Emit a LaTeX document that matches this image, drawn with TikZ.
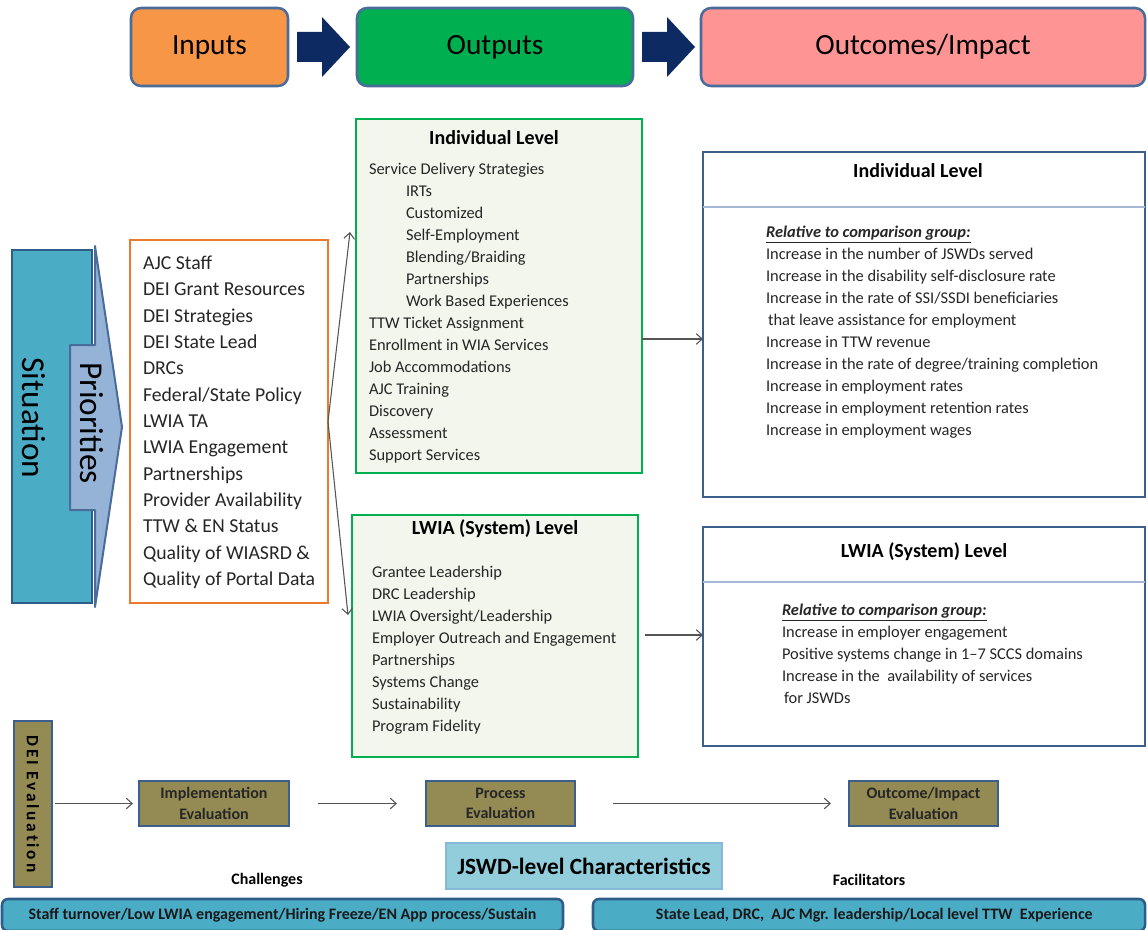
\documentclass[tikz,border=0pt]{standalone}
\usepackage{fontspec}
\setmainfont{Carlito}
\usetikzlibrary{arrows.meta}
\definecolor{hdrb}{HTML}{4A6C9B}
\definecolor{inpf}{HTML}{F79646}
\definecolor{outf}{HTML}{00B050}
\definecolor{impf}{HTML}{FF9494}
\definecolor{navyc}{HTML}{0E2A63}
\definecolor{sitf}{HTML}{4BACC6}
\definecolor{sitb}{HTML}{2F5D8A}
\definecolor{prif}{HTML}{95B3D7}
\definecolor{prib}{HTML}{4A6C9B}
\definecolor{orab}{HTML}{E97A30}
\definecolor{grnb}{HTML}{00B050}
\definecolor{grnf}{HTML}{F2F6EC}
\definecolor{outb}{HTML}{3D5F8E}
\definecolor{sepc}{HTML}{A5B9D4}
\definecolor{olivec}{HTML}{948A54}
\definecolor{jswdf}{HTML}{92CDDC}
\definecolor{jswdb}{HTML}{86B6D8}
\definecolor{barf}{HTML}{4BACC6}
\definecolor{txtc}{HTML}{262626}
\definecolor{conncol}{HTML}{555555}
\newcommand{\bx}[7]{\node[#6, minimum width={(#4-#2)*0.75pt}, minimum height={(#5-#3)*0.75pt}] (#1) at ({(#2+#4)/2},{(#3+#5)/2}) {#7};}
\begin{document}
\begin{tikzpicture}[x=0.75pt,y=-0.75pt,
  every node/.style={inner sep=0pt, outer sep=0pt, text=txtc},
  hdr/.style={draw=hdrb, line width=1.9pt, rounded corners=7.5pt, font=\fontsize{22}{26}\selectfont, text=black},
  inp/.style={font=\fontsize{14.8}{18}\selectfont, anchor=base west},
  itm/.style={font=\fontsize{12.3}{15}\selectfont, anchor=base west},
  ttl/.style={font=\fontsize{15}{18}\selectfont\bfseries, anchor=base, text=black},
  grnbox/.style={draw=grnb, fill=grnf, line width=2.2pt},
  outbox/.style={draw=outb, fill=white, line width=2.2pt},
  evalbox/.style={draw=outb, fill=olivec, line width=1.6pt, font=\fontsize{12}{15.5}\selectfont\bfseries, align=center},
  barbox/.style={draw=sitb, fill=barf, line width=1.9pt, rounded corners=4.5pt, font=\fontsize{12}{14}\selectfont\bfseries, text=black!90},
  connline/.style={draw=conncol, line width=0.8pt, -{Straight Barb[length=4.5pt,width=8pt]}},
  seprule/.style={draw=sepc, line width=1.5pt},
  rel/.style={font=\fontsize{12.3}{15}\selectfont\bfseries\itshape, anchor=base west},
]
\fill[white] (0,0) rectangle (1148,930);
\useasboundingbox (0,0) rectangle (1148,930);

% header row
\bx{inputs}{131}{8}{288}{86}{hdr, fill=inpf}{Inputs}
\bx{outputs}{357}{8}{633}{86}{hdr, fill=outf}{Outputs}
\bx{impact}{701}{8}{1145}{86}{hdr, fill=impf}{Outcomes/Impact}
\fill[navyc] (297,32) -- (322,32) -- (322,17) -- (350,47) -- (322,77) -- (322,62) -- (297,62) -- cycle;
\fill[navyc] (642,32) -- (667,32) -- (667,17) -- (695,47) -- (667,77) -- (667,62) -- (642,62) -- cycle;

% situation / priorities
\bx{situation}{12}{250}{92}{603}{draw=sitb, fill=sitf, line width=1.9pt}{}
\node[rotate=-90, font=\fontsize{25}{30}\selectfont, text=black] (sittext) at (34,418) {Situation};
\draw[draw=prib, fill=prif, line width=1.5pt, line join=round] (70,345) -- (95,345) -- (95,246) -- (122,427) -- (95,607) -- (95,510) -- (70,510) -- cycle;
\node[rotate=-90, font=\fontsize{25}{30}\selectfont, text=black] (pritext) at (92,423) {Priorities};

% inputs list
\bx{inlist}{130}{240}{328}{603}{draw=orab, line width=1.5pt, fill=white}{}
\foreach \t [count=\i from 0] in {AJC Staff, DEI Grant Resources, DEI Strategies, DEI State Lead, DRCs, Federal/State Policy, LWIA TA, LWIA Engagement, Partnerships, Provider Availability, TTW \& EN Status, Quality of WIASRD \&, Quality of Portal Data}
  \node[inp] (in\i) at (143,{269.5+26.33*\i}) {\t};

% outputs: individual level
\bx{outind}{356}{119}{642}{473}{grnbox}{}
\node[ttl] (outindt) at (494,145) {Individual Level};
\foreach \xx/\t [count=\i from 0] in {369/{Service Delivery Strategies}, 406/{IRTs}, 406/{Customized}, 406/{Self-Employment}, 406/{Blending/Braiding}, 406/{Partnerships}, 406/{Work Based Experiences}, 369/{TTW Ticket Assignment}, 369/{Enrollment in WIA Services}, 369/{Job Accommodations}, 369/{AJC Training}, 369/{Discovery}, 369/{Assessment}, 369/{Support Services}}
  \node[itm] (oi\i) at (\xx,{174.5+22*\i}) {\t};

% outputs: LWIA level
\bx{outlw}{352}{515}{638}{757}{grnbox}{}
\node[ttl] (outlwt) at (495,534) {LWIA (System) Level};
\foreach \t [count=\i from 0] in {Grantee Leadership, DRC Leadership, LWIA Oversight/Leadership, Employer Outreach and Engagement, Partnerships, Systems Change, Sustainability, Program Fidelity}
  \node[itm] (ol\i) at (372,{577.5+22*\i}) {\t};

% outcomes: individual level
\bx{ocind}{703}{152}{1145}{497}{outbox}{}
\draw[seprule] (ocind.west |- 0,207) -- (ocind.east |- 0,207);
\node[ttl] (ocindt) at (918,178) {Individual Level};
\node[rel] (ocindr) at (766,237.5) {\underline{Relative to comparison group:}};
\foreach \xx/\t [count=\i from 0] in {766/{Increase in the number of JSWDs served}, 766/{Increase in the disability self-disclosure rate}, 766/{Increase in the rate of SSI/SSDI beneficiaries}, 768/{that leave assistance for employment}, 766/{Increase in TTW revenue}, 766/{Increase in the rate of degree/training completion}, 766/{Increase in employment rates}, 766/{Increase in employment retention rates}, 766/{Increase in employment wages}}
  \node[itm] (oc\i) at (\xx,{259.5+22*\i}) {\t};

% outcomes: LWIA level
\bx{oclw}{703}{527}{1145}{746}{outbox}{}
\draw[seprule] (oclw.west |- 0,582) -- (oclw.east |- 0,582);
\node[ttl] (oclwt) at (924,557) {LWIA (System) Level};
\node[rel] (oclwr) at (782,615.5) {\underline{Relative to comparison group:}};
\foreach \xx/\t [count=\i from 0] in {782/{Increase in employer engagement}, 782/{Positive systems change in 1--7 SCCS domains}, 782/{Increase in the\ \ availability of services}, 784/{for JSWDs}}
  \node[itm] (ow\i) at (\xx,{637.5+22*\i}) {\t};

% connectors
\coordinate (tipA) at (350,232);
\coordinate (tipB) at (348,615);
\draw[connline] (inlist.east) -- (tipA);
\draw[connline] (inlist.east) -- (tipB);
\coordinate (yA) at (0,339);
\coordinate (yB) at (0,635);
\draw[connline] (outind.east |- yA) -- (ocind.west |- yA);
\draw[connline, shorten <=5pt] (outlw.east |- yB) -- (oclw.west |- yB);

% evaluation row
\bx{dei}{14}{721}{52}{887}{draw=outb, fill=olivec, line width=1.6pt}{}
\node[rotate=-90, font=\fontsize{13}{15}\selectfont\bfseries\addfontfeature{LetterSpace=16,Ligatures=NoCommon}, text=black] (deit) at (33,804) {DEI Evaluation};
\bx{impl}{139}{781}{289}{826}{evalbox}{Implementation\\Evaluation}
\bx{proc}{426}{781}{575}{826}{evalbox}{Process\\Evaluation}
\bx{ocev}{849}{781}{998}{826}{evalbox}{Outcome/Impact\\Evaluation}
\draw[connline, shorten <=2pt, shorten >=4.5pt] (dei.east |- impl.west) -- (impl.west);
\draw[connline, shorten <=21.75pt, shorten >=21.75pt] (impl.east) -- (proc.west);
\draw[connline, shorten <=28.5pt, shorten >=13.5pt] (proc.east) -- (ocev.west);

% bottom
\bx{jswd}{446}{843}{722}{889}{draw=jswdb, fill=jswdf, line width=0.8pt, font=\fontsize{17.5}{20}\selectfont\bfseries, text=black}{JSWD-level Characteristics}
\node[font=\fontsize{12}{14}\selectfont\bfseries, text=black] (chal) at (267,880) {Challenges};
\node[font=\fontsize{12}{14}\selectfont\bfseries, text=black] (faci) at (869,880) {Facilitators};
\bx{chbar}{2}{899}{563}{931}{barbox}{Staff turnover/Low LWIA engagement/Hiring Freeze/EN App process/Sustain}
\bx{fabar}{593}{899}{1145}{931}{barbox}{\hspace*{8pt}State Lead, DRC,\ \ AJC Mgr. leadership/Local level TTW\ \ Experience}
\end{tikzpicture}
\end{document}
